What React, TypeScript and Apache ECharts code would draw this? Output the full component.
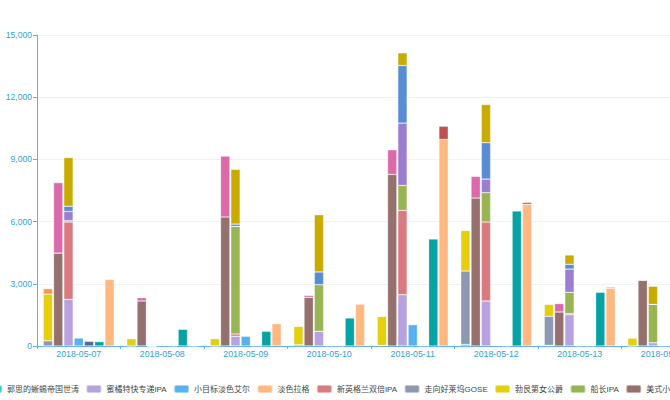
import React, { useEffect, useRef } from "react";
import * as echarts from "echarts";

const dates = ["2018-05-07", "2018-05-08", "2018-05-09", "2018-05-10", "2018-05-11", "2018-05-12", "2018-05-13", "2018-05-14"];
const yTicks = { min: 0, max: 15000, interval: 3000 };

// beer names (legend order)
const names = [
  "郭思的蜥蜴帝国世涛",
  "蜜橘特快专递IPA",
  "小目标淡色艾尔",
  "淡色拉格",
  "新英格兰双倍IPA",
  "走向好莱坞GOSE",
  "勃艮第女公爵",
  "船长IPA",
  "美式小麦",
  "覆盆子酸啤",
  "比利时白啤",
  "燕麦世涛",
  "西海岸IPA",
  "琥珀艾尔",
  "红色艾尔",
  "波特",
  "三料修道院",
];

// values per beer, one per date
const guosi = [0, 0, 0, 60, 30, 80, 30, 0];
const mijv = [2250, 0, 470, 710, 2475, 2170, 1510, 160];
const xiaomubiao = [385, 30, 470, 0, 1030, 30, 0, 0];
const danselage = [3215, 0, 1080, 2025, 9960, 6830, 2780, 0];
const xinyinggelan = [3730, 0, 110, 0, 4065, 3810, 50, 0];
const haolaiwu = [250, 0, 0, 0, 0, 3535, 1400, 0];
const bogendi = [2250, 355, 355, 890, 1400, 1960, 580, 385];
const chuanzhang = [60, 0, 5190, 2250, 1205, 1415, 1030, 1850];
const meishi = [4480, 2170, 6220, 2345, 8275, 7135, 1640, 3165];
const fupenzi = [3400, 160, 2940, 95, 1190, 1045, 405, 0];
const bilishi = [210, 805, 710, 1350, 5160, 6510, 2590, 0];
const yanmai = [450, 0, 0, 0, 3005, 655, 1120, 0];
const xihaian = [250, 0, 110, 610, 2780, 1755, 230, 0];
const hupo = [270, 0, 0, 0, 0, 0, 0, 0];
const hongse = [0, 0, 0, 0, 640, 95, 50, 0];
const bote = [225, 0, 0, 0, 0, 0, 0, 0];
const sanliao = [2350, 0, 2640, 2760, 610, 1845, 450, 870];

const values = [guosi, mijv, xiaomubiao, danselage, xinyinggelan, haolaiwu, bogendi, chuanzhang, meishi, fupenzi, bilishi, yanmai, xihaian, hupo, hongse, bote, sanliao];
// stack group of each beer
const stacks = ["A", "C", "D", "G", "C", "A", "A", "C", "B", "B", "F", "C", "C", "A", "G", "E", "C"];
// order in which series are given to the library (so that stack columns appear A..G)
const seriesOrder = [0, 8, 1, 2, 15, 10, 3, 4, 5, 6, 7, 9, 11, 12, 13, 14, 16];

const palette = ["#2ec7c9", "#b6a2de", "#5ab1ef", "#ffb980", "#d87a80", "#8d98b3", "#e5cf0d", "#97b552", "#95706d", "#dc69aa", "#07a2a4", "#9a7fd1", "#588dd5", "#f5994e", "#c05050", "#59678c", "#c9ab00"];

const FONT = '"Liberation Sans", Arial, "Noto Sans CJK SC", sans-serif';

export default function App() {
  const ref = useRef<HTMLDivElement>(null);
  useEffect(() => {
    if (!ref.current) return;
    const chart = echarts.init(ref.current, undefined, { renderer: "svg" });
    const series = seriesOrder.map((i) => ({
      name: names[i],
      type: "bar",
      stack: stacks[i],
      data: values[i],
      itemStyle: { color: palette[i], borderColor: "rgba(255,255,255,0.45)", borderWidth: 0.6 },
    }));
    chart.setOption({
      animation: false,
      textStyle: { fontFamily: FONT },
      legend: {
        data: names,
        left: -14,
        top: 384,
        width: 2000,
        padding: 0,
        itemWidth: 15,
        itemHeight: 8,
        itemGap: 6.4,
        textStyle: { fontSize: 8, color: "#444", fontFamily: FONT },
      },
      grid: { left: 37, right: -35, top: 35, bottom: 54, outerBoundsMode: "none" },
      xAxis: {
        type: "category",
        data: dates,
        axisLine: { show: true, lineStyle: { color: "#5ab5e6", width: 1 } },
        axisTick: { show: true, length: 3, lineStyle: { color: "#5ab5e6" } },
        axisLabel: { fontSize: 8.8, color: "#2f9fdc", margin: 4, fontFamily: FONT },
        splitLine: { show: false },
      },
      yAxis: {
        type: "value",
        min: yTicks.min,
        max: yTicks.max,
        interval: yTicks.interval,
        axisLine: { show: true, lineStyle: { color: "#5ab5e6", width: 1 } },
        axisTick: { show: true, length: 4, lineStyle: { color: "#5ab5e6" } },
        axisLabel: {
          fontSize: 8.6,
          color: "#2f9fdc",
          margin: 5,
          fontFamily: FONT,
          formatter: (v: number) => v.toLocaleString("en-US"),
        },
        splitLine: { show: true, lineStyle: { color: "#f2f2f2" } },
      },
      series,
    });
    return () => chart.dispose();
  }, []);
  return <div ref={ref} style={{ position: "absolute", left: 0, top: 0, width: 670, height: 400 }} />;
}
